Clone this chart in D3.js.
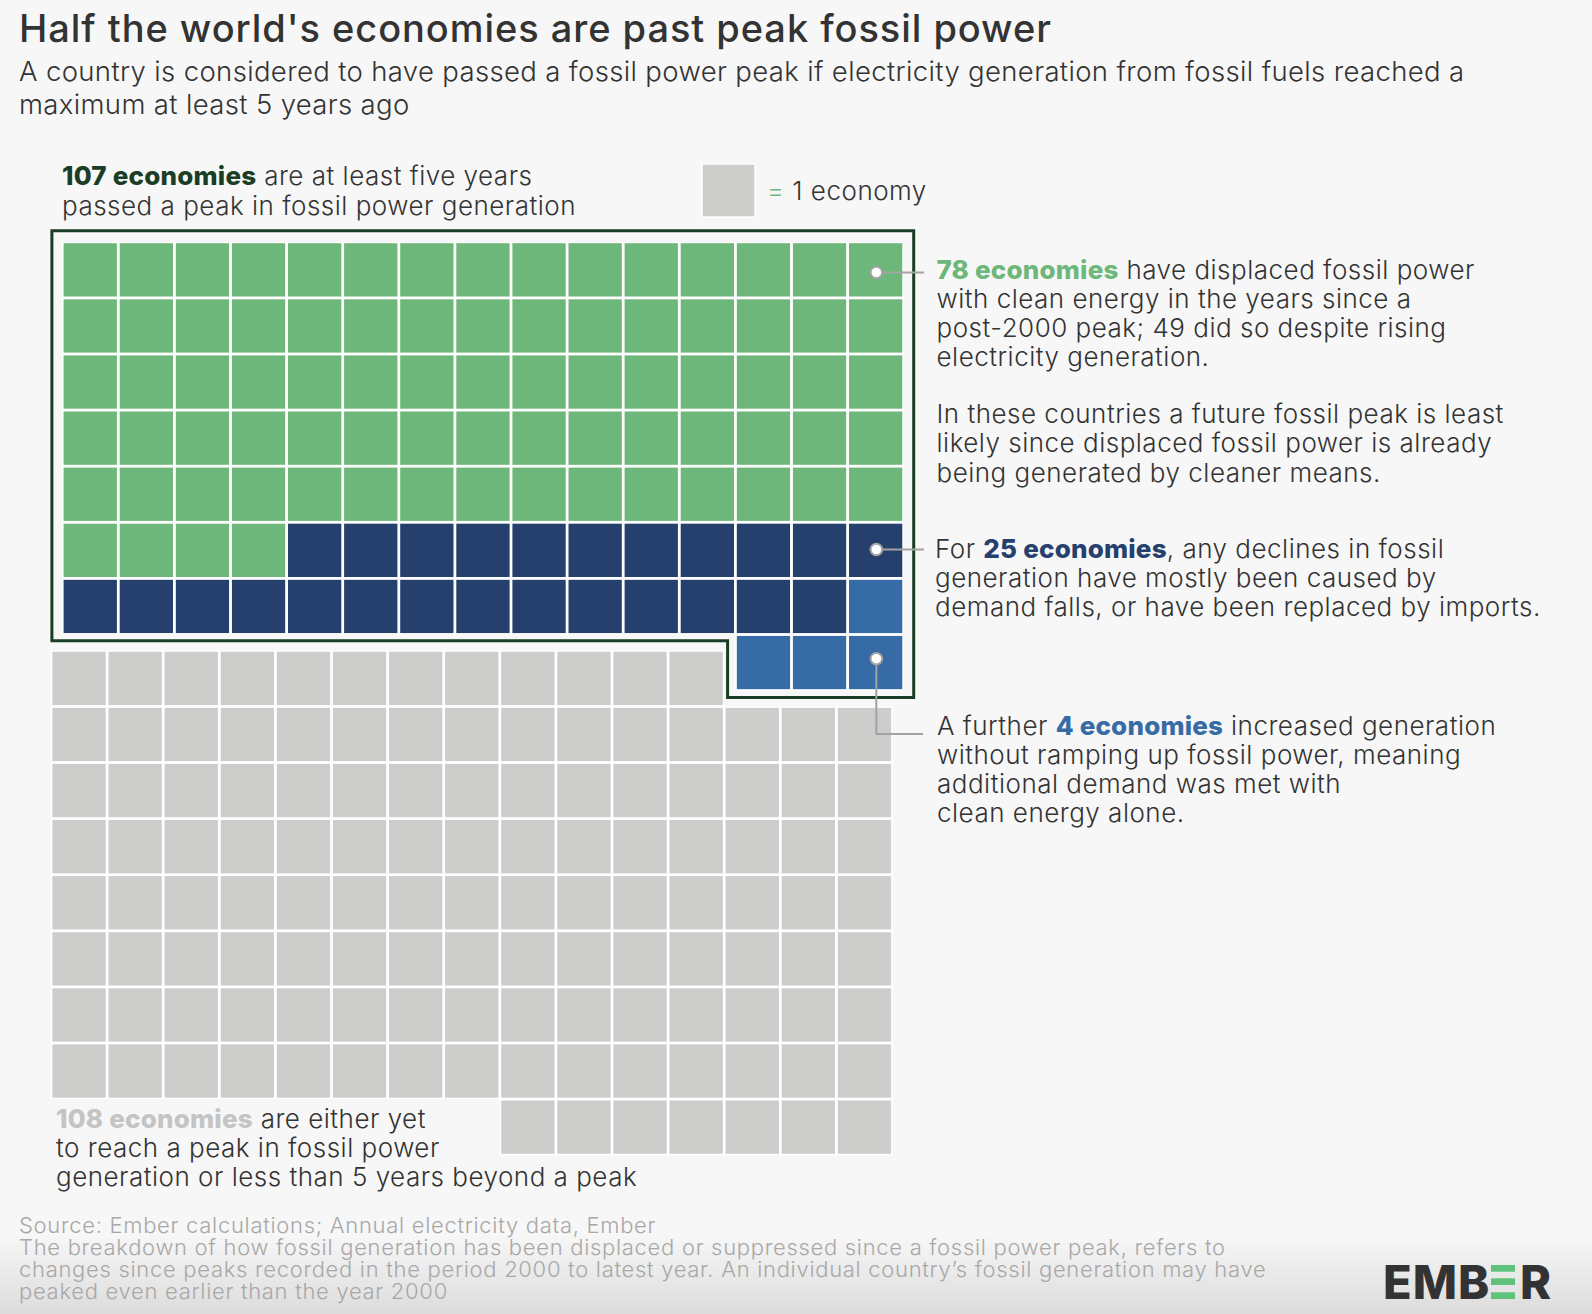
<!DOCTYPE html>
<html>
<head>
<meta charset="utf-8">
<script src="https://cdnjs.cloudflare.com/ajax/libs/d3/7.8.5/d3.min.js"></script>
<style>
  html, body { margin: 0; padding: 0; background: #f7f7f7; }
  svg { display: block; }
  text { font-family: Inter, sans-serif; fill: #333; }
  .body { font-size: 26px; font-weight: 300; letter-spacing: 0.5px; }
  .body .strong { font-weight: 800; letter-spacing: 0.2px; }
</style>
</head>
<body>
<script>
// cells drawn per group (top grid fills left to right)
const groupNames = ['displaced', 'demand', 'clean'];
const groupCells = [79, 25, 4];
const groupColors = ['#6db77a', '#26406d', '#376ba6'];

// bottom grid, one entry per row
const grayRowStart = [0, 0, 0, 0, 0, 0, 0, 0, 8];
const grayRowCount = [12, 15, 15, 15, 15, 15, 15, 15, 7];

const title = "Half the world's economies are past peak fossil power";
const subtitle = [
  'A country is considered to have passed a fossil power peak if electricity generation from fossil fuels reached a',
  'maximum at least 5 years ago'
];
const headTop = [
  [['107 economies', '#1a3d25'], [' are at least five years']],
  [['passed a peak in fossil power generation']]
];
const noteDisplaced = [
  [['78 economies', '#6db77a'], [' have displaced fossil power']],
  [['with clean energy in the years since a']],
  [['post-2000 peak; 49 did so despite rising']],
  [['electricity generation.']]
];
const noteLikely = [
  [['In these countries a future fossil peak is least']],
  [['likely since displaced fossil power is already']],
  [['being generated by cleaner means.']]
];
const noteDemand = [
  [['For '], ['25 economies', '#26406d'], [', any declines in fossil']],
  [['generation have mostly been caused by']],
  [['demand falls, or have been replaced by imports.']]
];
const noteClean = [
  [['A further '], ['4 economies', '#376ba6'], [' increased generation']],
  [['without ramping up fossil power, meaning']],
  [['additional demand was met with']],
  [['clean energy alone.']]
];
const headBottom = [
  [['108 economies', '#c4c4c4'], [' are either yet']],
  [['to reach a peak in fossil power']],
  [['generation or less than 5 years beyond a peak']]
];
const source = [
  'Source: Ember calculations; Annual electricity data, Ember',
  'The breakdown of how fossil generation has been displaced or suppressed since a fossil power peak, refers to',
  'changes since peaks recorded in the period 2000 to latest year. An individual country\u2019s fossil generation may have',
  'peaked even earlier than the year 2000'
];

const width = 1592, height = 1314;
const cols = 15, pitch = 56.1;
const strokeW = 1.4;

const svg = d3.select('body').append('svg')
  .attr('width', width)
  .attr('height', height);

const grad = svg.append('defs').append('linearGradient')
  .attr('id', 'fade').attr('x1', 0).attr('x2', 0).attr('y1', 0).attr('y2', 1);
grad.append('stop').attr('offset', 0).attr('stop-color', '#f7f7f7');
grad.append('stop').attr('offset', 1).attr('stop-color', '#dcdcdc');

svg.append('rect').attr('width', width).attr('height', height).attr('fill', '#f7f7f7');
svg.append('rect').attr('y', 1235).attr('width', width).attr('height', height - 1235).attr('fill', 'url(#fade)');

// top grid
const xTop = d3.scaleBand().domain(d3.range(cols)).range([62.9, 62.9 + cols * pitch]);
const yTop = d3.scaleBand().domain(d3.range(8)).range([242.5, 242.5 + 8 * pitch]);
const color = d3.scaleOrdinal(groupNames, groupColors);

const topCells = groupNames.flatMap((g, i) => d3.range(groupCells[i]).map(() => g))
  .map((g, i) => ({ group: g, col: i % cols, row: Math.floor(i / cols) }));

// cell order runs left to right, the short last row sits at the right hand end
const topRowLen = d3.rollup(topCells, v => v.length, d => d.row);
svg.append('g').selectAll('rect').data(topCells).join('rect')
  .attr('x', d => xTop(d.col + (cols - topRowLen.get(d.row))))
  .attr('y', d => yTop(d.row))
  .attr('width', xTop.bandwidth() - strokeW)
  .attr('height', yTop.bandwidth() - strokeW)
  .attr('fill', d => color(d.group))
  .attr('stroke', '#fff')
  .attr('stroke-width', strokeW);

// bottom grid
const xBot = d3.scaleBand().domain(d3.range(cols)).range([51.7, 51.7 + cols * pitch]);
const yBot = d3.scaleBand().domain(d3.range(grayRowCount.length)).range([651, 651 + grayRowCount.length * pitch]);
const grayCells = grayRowCount.flatMap((n, r) =>
  d3.range(n).map(c => ({ row: r, col: c + grayRowStart[r] })));

svg.append('g').selectAll('rect').data(grayCells).join('rect')
  .attr('x', d => xBot(d.col))
  .attr('y', d => yBot(d.row))
  .attr('width', xBot.bandwidth() - strokeW)
  .attr('height', yBot.bandwidth() - strokeW)
  .attr('fill', '#cdcdcb')
  .attr('stroke', '#fff')
  .attr('stroke-width', strokeW);

// outline around the top group
const outL = xTop(0) - 11, outR = xTop(cols - 1) + pitch + 9.3;
const outT = yTop(0) - 11.8, outB = yTop(7) + pitch + 6.3;
const stepX = xTop(12) - 8.5, stepY = yTop(7) + 5.5;
svg.append('path')
  .attr('d', d3.line()([[outL, outT], [outR, outT], [outR, outB], [stepX, outB], [stepX, stepY], [outL, stepY]]) + 'Z')
  .attr('fill', 'none')
  .attr('stroke', '#1a3d25')
  .attr('stroke-width', 3);

// legend square
svg.append('rect').attr('x', 702).attr('y', 164).attr('width', 53).attr('height', 53)
  .attr('fill', '#cdcdcb').attr('stroke', '#fff').attr('stroke-width', strokeW);
svg.append('text').attr('x', 767).attr('y', 199.5).attr('class', 'body')
  .call(t => t.append('tspan').style('fill', '#6db77a').text('='))
  .call(t => t.append('tspan').text(' 1 economy'));

// text helper, coloured runs are the bold ones
function block(lines, x, y, lh) {
  const g = svg.append('g');
  lines.forEach((runs, i) => {
    const line = g.append('text').attr('x', x).attr('y', y + i * lh).attr('class', 'body');
    runs.forEach(r => {
      const s = line.append('tspan').text(r[0]);
      if (r[1]) s.attr('class', 'strong').style('fill', r[1]);
    });
  });
}

svg.append('text').attr('x', 19).attr('y', 42).text(title)
  .style('font-size', '38px').style('font-weight', 500).style('letter-spacing', '0.95px');
subtitle.forEach((s, i) => svg.append('text').attr('x', 19).attr('y', 81 + i * 32.5).text(s)
  .style('font-size', '27.5px').style('font-weight', 300).style('letter-spacing', '0.35px'));

block(headTop, 62, 185.4, 29.2);
block(noteDisplaced, 936.5, 278.7, 29.1);
block(noteLikely, 936.5, 423.3, 29.1);
block(noteDemand, 935, 558.3, 29);
block(noteClean, 937, 734.8, 29);
block(headBottom, 56, 1128.3, 29);

source.forEach((s, i) => svg.append('text').attr('x', 19).attr('y', 1232.7 + i * 22).text(s)
  .style('font-size', '22px').style('font-weight', 300).style('letter-spacing', '0.7px').style('fill', '#a8a8a8'));

// callout leaders, anchored on the last column
const dotX = xTop(cols - 1) + xTop.bandwidth() / 2;
const leaders = [
  { y: yTop(0) + 30, pts: [[924, null]] },
  { y: yTop(5) + 26.5, pts: [[924, null]] },
  { y: yTop(7) + 23.5, pts: [[null, 734], [923, 734]] }
];
leaders.forEach(l => {
  const pts = [[dotX, l.y]].concat(l.pts.map(p => [p[0] === null ? dotX : p[0], p[1] === null ? l.y : p[1]]));
  svg.append('path').attr('d', d3.line()(pts)).attr('fill', 'none').attr('stroke', '#a3a3a3').attr('stroke-width', 2);
  svg.append('circle').attr('cx', dotX).attr('cy', l.y).attr('r', 5.8)
    .attr('fill', '#fff').attr('stroke', '#a3a3a3').attr('stroke-width', 2);
});

// logo: middle E is three green bars
const logo = svg.append('g');
logo.append('text').attr('x', 1383).attr('y', 1299).text('EMB')
  .style('font-size', '47px').style('font-weight', 800).style('letter-spacing', '1px');
logo.append('text').attr('x', 1520).attr('y', 1299).text('R')
  .style('font-size', '47px').style('font-weight', 800);
[1265, 1278.3, 1292.3].forEach(y => logo.append('rect')
  .attr('x', 1491).attr('y', y).attr('width', 24).attr('height', 6.7).attr('fill', '#5fc27a'));
</script>
</body>
</html>
